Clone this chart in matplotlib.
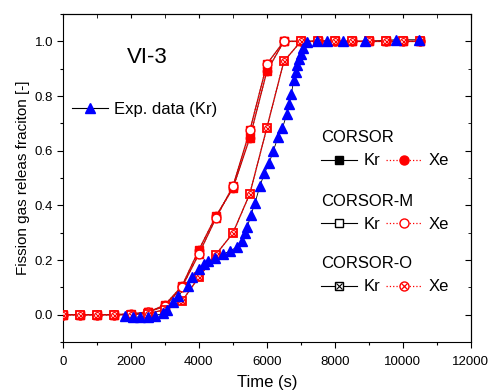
import matplotlib
matplotlib.use('Agg')
import matplotlib.pyplot as plt
import matplotlib.ticker as mticker
from matplotlib.lines import Line2D
from matplotlib.legend_handler import HandlerTuple

plt.rcParams['font.family'] = ['Liberation Sans', 'DejaVu Sans']

# model time grid (s)
t_model = [0, 500, 1000, 1500, 2000, 2500, 3000, 3500, 4000, 4500, 5000,
           5500, 6000, 6500, 7000, 7500, 8000, 8500, 9000, 9500, 10000, 10500]
corsor = [0, 0, 0, 0, 0, 0.008, 0.036, 0.104, 0.237, 0.36, 0.462,
          0.648, 0.891, 1.0, 1.0, 1.0, 1.0, 1.0, 1.0, 1.0, 1.0, 1.0]
corsor_m = [0, 0, 0, 0, 0.003, 0.01, 0.03, 0.10, 0.222, 0.353, 0.469,
            0.674, 0.917, 1.0, 1.0, 1.0, 1.0, 1.0, 1.0, 1.0, 1.0, 1.0]
corsor_o = [0, 0, 0, 0, 0, 0.004, 0.018, 0.049, 0.137, 0.22, 0.298,
            0.443, 0.684, 0.927, 1.0, 1.0, 1.0, 1.0, 1.0, 1.0, 1.0, 1.0]

# experimental data (Kr)
t_exp = [1820, 2070, 2270, 2510, 2700, 2950, 3070, 3250, 3390, 3690, 3810,
         4010, 4150, 4270, 4470, 4720, 4910, 5110, 5260, 5350, 5430, 5530,
         5650, 5790, 5930, 6070, 6190, 6330, 6460, 6590, 6660, 6720, 6790,
         6870, 6900, 6950, 7000, 7050, 7170, 7480, 7760, 8230, 8880, 9790, 10470]
y_exp = [-0.004, -0.01, -0.008, -0.007, -0.004, 0.005, 0.017, 0.045, 0.07,
         0.106, 0.139, 0.167, 0.186, 0.195, 0.208, 0.222, 0.232, 0.247, 0.271,
         0.298, 0.322, 0.365, 0.408, 0.469, 0.518, 0.556, 0.6, 0.65, 0.684,
         0.735, 0.772, 0.808, 0.857, 0.888, 0.912, 0.935, 0.955, 0.975, 0.998,
         1.003, 1.002, 1.0, 1.0, 1.006, 1.006]

fig = plt.figure(figsize=(4.91, 3.92), dpi=100)
ax = fig.add_axes([0.128, 0.1276, 0.831, 0.8365])

red = '#ff0000'
dark = '#a01010'
blue = '#0000ff'

# experimental
ax.plot(t_exp, y_exp, '-', color='black', lw=0.6, zorder=2)
ax.plot(t_exp, y_exp, '^', color=blue, ms=7, mec=blue, zorder=6)

# model lines: Kr solid, Xe dotted on top
for y in [corsor_o, corsor, corsor_m]:
    ax.plot(t_model, y, '-', color=dark, lw=0.9, zorder=3)
    ax.plot(t_model, y, ':', color=red, lw=0.9, zorder=3)

# CORSOR (filled) and CORSOR-M (open)
ax.plot(t_model, corsor, 's', ms=5.5, mfc=red, mec=red, zorder=4)
ax.plot(t_model, corsor, 'o', ms=6, mfc=red, mec=red, zorder=4)
ax.plot(t_model, corsor_m, 's', ms=5.5, mfc='white', mec=red, mew=1.0, zorder=4)
ax.plot(t_model, corsor_m, 'o', ms=6.3, mfc='white', mec=red, mew=1.0, zorder=4)
# CORSOR-O (crossed), on top
ax.plot(t_model, corsor_o, 's', ms=6, mfc='white', mec=red, mew=1.3, zorder=5)
ax.plot(t_model, corsor_o, 'o', ms=4.2, mfc='none', mec=red, mew=0.8, zorder=5)
ax.plot(t_model, corsor_o, 'x', ms=3.6, mec=red, mew=0.8, zorder=5)

ax.set_xlim(0, 12000)
ax.set_ylim(-0.1, 1.1)
ax.xaxis.set_major_locator(mticker.MultipleLocator(2000))
ax.xaxis.set_minor_locator(mticker.MultipleLocator(1000))
ax.yaxis.set_major_locator(mticker.MultipleLocator(0.2))
ax.yaxis.set_minor_locator(mticker.MultipleLocator(0.1))
ax.yaxis.set_major_formatter(mticker.FormatStrFormatter('%.1f'))
ax.tick_params(which='major', direction='out', length=4, width=0.8, labelsize=9.5)
ax.tick_params(axis='x', which='major', pad=6)
ax.tick_params(axis='y', which='major', pad=3)
ax.tick_params(which='minor', direction='out', length=2.2, width=0.8)

top = ax.secondary_xaxis('top')
top.xaxis.set_major_locator(mticker.MultipleLocator(2000))
top.xaxis.set_minor_locator(mticker.MultipleLocator(1000))
top.tick_params(which='both', direction='in', length=3, labeltop=False)
right = ax.secondary_yaxis('right')
right.yaxis.set_major_locator(mticker.MultipleLocator(0.2))
right.yaxis.set_minor_locator(mticker.MultipleLocator(0.1))
right.tick_params(which='major', direction='in', length=4, labelright=False)
right.tick_params(which='minor', direction='in', length=2.2, labelright=False)

ax.set_xlabel('Time (s)', fontsize=12, labelpad=5)
ax.set_ylabel('Fission gas releas fraciton [-]', fontsize=11, labelpad=3)

ax.text(0.206, 0.869, 'VI-3', transform=ax.transAxes, fontsize=16, ha='center', va='center')

# legends
exp_h = Line2D([], [], color='black', lw=0.8, marker='^', ms=7, mfc=blue, mec=blue)
leg0 = ax.legend([exp_h], ['Exp. data (Kr)'], loc='upper left', bbox_to_anchor=(0.022, 0.733),
                 frameon=False, fontsize=12, handlelength=2.2, handletextpad=0.35,
                 borderpad=0, borderaxespad=0)
ax.add_artist(leg0)

kw = dict(loc='upper left', ncol=2, frameon=False, fontsize=12, title_fontsize=12,
          alignment='left', handlelength=2.2, handletextpad=0.35, columnspacing=0.35,
          borderpad=0, borderaxespad=0, handler_map={tuple: HandlerTuple(ndivide=1, pad=0)})

groups = ['CORSOR', 'CORSOR-M', 'CORSOR-O']
tops = [0.646, 0.452, 0.262]
for i, name in enumerate(groups):
    if name == 'CORSOR':
        kr_h = Line2D([], [], color='black', lw=0.8, marker='s', ms=5.5, mfc='black', mec='black')
        xe_h = Line2D([], [], color=red, lw=0.9, ls=':', marker='o', ms=6.5, mfc=red, mec=red)
    elif name == 'CORSOR-M':
        kr_h = Line2D([], [], color='black', lw=0.8, marker='s', ms=5.5, mfc='white', mec='black')
        xe_h = Line2D([], [], color=red, lw=0.9, ls=':', marker='o', ms=6.5, mfc='white', mec=red)
    else:
        kr_h = (Line2D([], [], color='black', lw=0.8, marker='s', ms=5.5, mfc='white', mec='black'),
                Line2D([], [], ls='none', marker='x', ms=4, mec='black', mew=0.8))
        xe_h = (Line2D([], [], color=red, lw=0.9, ls=':', marker='o', ms=6.5, mfc='white', mec=red),
                Line2D([], [], ls='none', marker='x', ms=4.2, mec=red, mew=0.9))
    leg = ax.legend([kr_h, xe_h], ['Kr', 'Xe'], title=name,
                    bbox_to_anchor=(0.632, tops[i]), **kw)
    if i < len(groups) - 1:
        ax.add_artist(leg)

fig.savefig('out.png', dpi=100)
